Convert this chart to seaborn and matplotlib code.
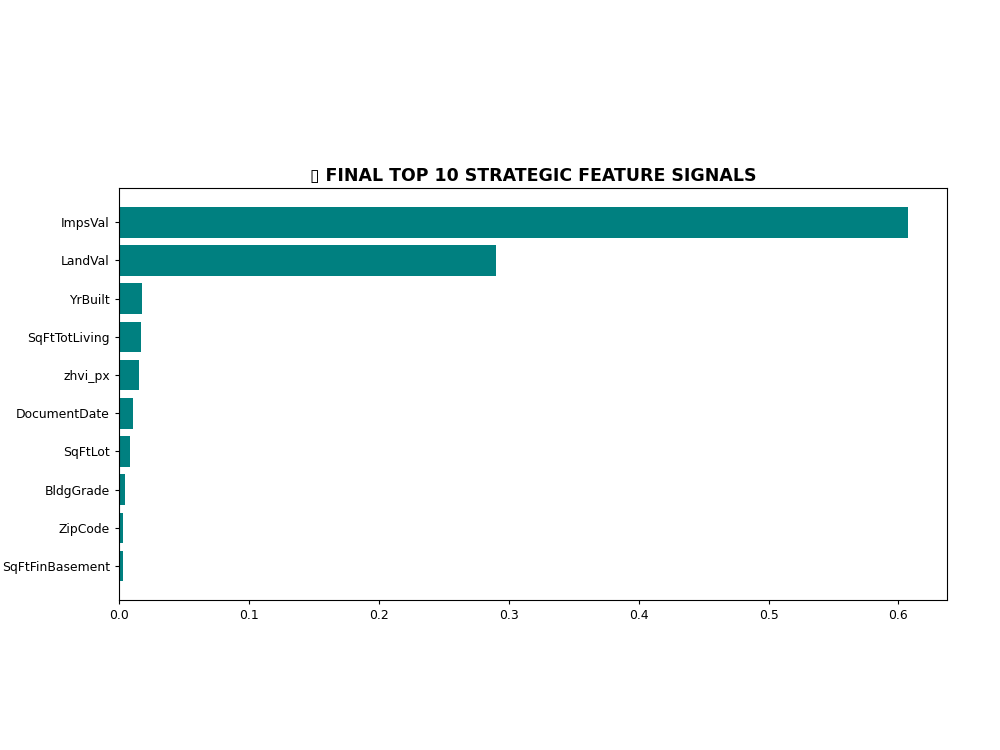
import matplotlib
matplotlib.use("Agg")
import matplotlib.pyplot as plt
import seaborn as sns
import pandas as pd

features = ['ImpsVal', 'LandVal', 'YrBuilt', 'SqFtTotLiving', 'zhvi_px',
            'DocumentDate', 'SqFtLot', 'BldgGrade', 'ZipCode', 'SqFtFinBasement']
importance = [0.607, 0.2905, 0.018, 0.0167, 0.0154, 0.0105, 0.0085, 0.0049, 0.0029, 0.0028]

df = pd.DataFrame({'feature': features, 'importance': importance})

plt.rcParams['font.size'] = 8.9
plt.rcParams['xtick.major.size'] = 3.1
plt.rcParams['ytick.major.size'] = 3.1

fig, ax = plt.subplots(figsize=(10, 7.5), dpi=100)
sns.barplot(data=df, x='importance', y='feature', orient='h', color='teal',
            saturation=1, width=0.8, ax=ax)
ax.set_xlabel('')
ax.set_ylabel('')
# matplotlib's default barh limits
ax.set_ylim(9.89, -0.89)
ax.set_xlim(0, max(importance) * 1.05)
# the original title starts with an emoji that rendered as an empty box
ax.set_title('\u25AF FINAL TOP 10 STRATEGIC FEATURE SIGNALS', fontsize=12.5, fontweight='bold', pad=5)

plt.subplots_adjust(left=0.119, right=0.947, top=0.749, bottom=0.2)
plt.savefig('out.png', dpi=100)
